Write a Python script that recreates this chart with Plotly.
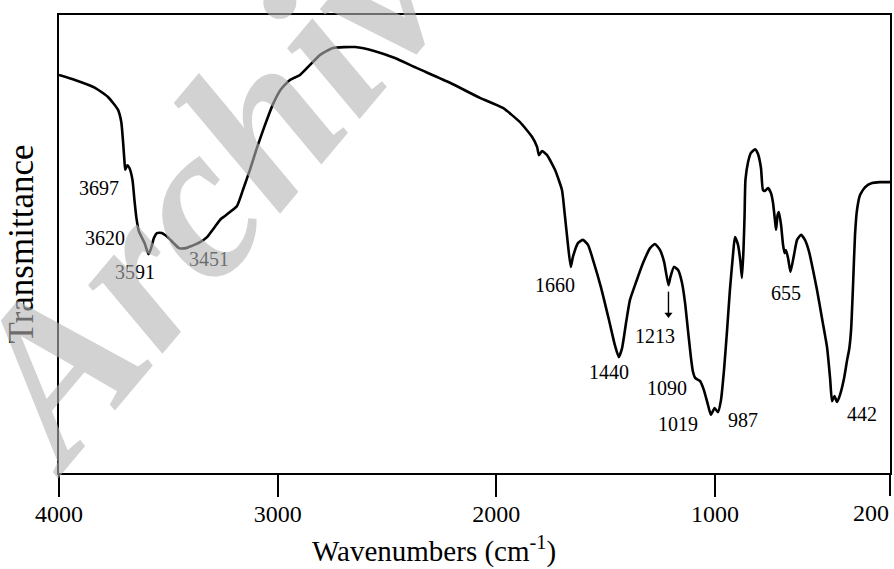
import plotly.graph_objects as go

# FTIR spectrum: wavenumber (cm-1) vs. transmittance (arbitrary units)
wavenumber = [4000, 3927, 3835, 3776, 3730, 3715, 3707, 3701, 3697, 3688, 3678, 3664, 3655,
              3646, 3635, 3620, 3607, 3591, 3580, 3566, 3552, 3530, 3503, 3476, 3451, 3419,
              3392, 3355, 3323, 3291, 3259, 3241, 3223, 3186, 3159, 3127, 3095, 3058, 3021,
              2985, 2944, 2898, 2852, 2806, 2747, 2646, 2555, 2464, 2363, 2212, 2075, 1970,
              1892, 1837, 1814, 1805, 1791, 1768, 1732, 1700, 1688, 1675, 1660, 1650, 1627,
              1604, 1581, 1554, 1522, 1485, 1458, 1440, 1425, 1407, 1389, 1361, 1329, 1297,
              1275, 1252, 1233, 1213, 1204, 1188, 1169, 1151, 1137, 1124, 1110, 1101, 1090,
              1069, 1051, 1032, 1019, 1002, 987, 973, 959, 945, 932, 918, 909, 895, 884, 877,
              870, 865, 861, 849, 836, 817, 804, 790, 781, 772, 758, 744, 735, 726, 721, 714,
              708, 698, 689, 682, 676, 666, 655, 639, 625, 607, 589, 570, 552, 534, 511, 488,
              474, 465, 454, 442, 429, 410, 396, 387, 378, 369, 360, 351, 337, 314, 282, 246,
              200]
transmittance = [86.9, 85.8, 84.1, 82.1, 79.3, 76.6, 72.3, 68.3, 66.2, 67.2, 66.6, 64.0, 59.6,
                 55.7, 52.8, 51.3, 50.0, 47.8, 48.9, 51.3, 52.4, 52.4, 51.5, 50.2, 49.1, 49.1,
                 49.6, 50.4, 51.5, 53.5, 55.5, 56.1, 56.8, 58.3, 61.8, 66.2, 71.0, 76.0, 80.6,
                 83.8, 85.8, 86.9, 89.1, 91.3, 92.8, 93.0, 92.1, 90.6, 88.4, 85.2, 81.9, 79.7,
                 76.6, 73.4, 71.2, 69.4, 70.3, 69.4, 66.2, 61.8, 56.8, 50.9, 45.0, 47.2, 50.2,
                 50.9, 49.8, 45.9, 40.6, 33.4, 27.9, 25.3, 27.3, 32.8, 37.8, 41.7, 45.9, 49.1,
                 50.0, 48.7, 46.1, 41.0, 42.8, 45.0, 44.3, 41.5, 37.1, 31.2, 25.1, 22.1, 20.7,
                 20.1, 18.1, 14.8, 12.7, 14.2, 13.3, 15.9, 22.5, 31.2, 40.0, 47.6, 51.5, 49.8,
                 46.1, 42.6, 48.7, 56.3, 64.0, 67.9, 69.9, 70.7, 69.7, 66.6, 61.8, 61.6, 62.2,
                 61.1, 59.0, 55.2, 53.1, 56.3, 57.0, 54.1, 49.8, 48.0, 48.7, 46.9, 43.9, 47.6,
                 50.9, 52.0, 50.9, 48.3, 44.3, 40.0, 33.8, 27.5, 20.7, 15.7, 16.8, 15.5, 17.0,
                 20.7, 24.7, 26.9, 31.2, 41.0, 52.0, 57.4, 60.7, 62.4, 63.3, 63.5, 63.5]

# Peak labels: text and label centre (wavenumber, transmittance)
peak_labels = ["3697", "3620", "3591", "3451", "1660", "1440", "1213", "1090", "1019", "987", "655", "442"]
label_x = [3817, 3790, 3652, 3314, 1732, 1485, 1275, 1220, 1169, 872, 676, 328]
label_y = [62.2, 51.3, 43.9, 46.7, 41.0, 22.1, 29.9, 18.6, 10.7, 11.6, 39.3, 12.9]

# Arrow pointing at the weak 1213 band (tail, head)
arrow_x = [1213, 1213]
arrow_y = [39.6, 34.6]

tick_values = [4000, 3000, 2000, 1000]
tick_labels = ["4000", "3000", "2000", "1000"]
end_tick_value = [200]
end_tick_label = ["200"]
x_range = [4000, 200]

SERIF = "Liberation Serif, Times New Roman, serif"

fig = go.Figure()
fig.add_trace(go.Scatter(
    x=wavenumber, y=transmittance, mode="lines",
    line=dict(color="black", width=2.6, shape="spline", smoothing=0.5),
    showlegend=False,
))
fig.add_trace(go.Scatter(
    x=arrow_x, y=arrow_y, mode="lines", line=dict(color="black", width=1.4),
    hoverinfo="skip", showlegend=False,
))
fig.add_trace(go.Scatter(
    x=arrow_x[1:], y=arrow_y[1:], mode="markers",
    marker=dict(symbol="triangle-down", size=7, color="black"),
    hoverinfo="skip", showlegend=False,
))
# carrier for the second x axis that holds the right-hand end tick
fig.add_trace(go.Scatter(
    x=x_range, y=[None, None], xaxis="x2", mode="lines",
    hoverinfo="skip", showlegend=False,
))

annotations = []
for txt, lx, ly in zip(peak_labels, label_x, label_y):
    annotations.append(dict(x=lx, y=ly, xref="x", yref="y", text=txt, showarrow=False,
                            font=dict(family=SERIF, size=20, color="black")))

# x axis title
annotations.append(dict(x=0.451, y=-0.168, xref="paper", yref="paper",
                        xanchor="center", yanchor="middle", showarrow=False,
                        text="Wavenumbers (cm<sup>-1</sup>)",
                        font=dict(family=SERIF, size=29, color="black")))

# repository watermark
annotations.append(dict(x=0.209, y=0.694, xref="paper", yref="paper",
                        xanchor="center", yanchor="middle",
                        text="<b><i>Archive</i></b>", showarrow=False, textangle=-50,
                        font=dict(family=SERIF, size=220, color="rgba(180,180,180,0.6)")))

common_ticks = dict(ticks="outside", ticklen=22, tickwidth=2.2, tickcolor="black",
                    showgrid=False, zeroline=False, automargin=False,
                    tickfont=dict(family=SERIF, size=24, color="black"))

fig.update_layout(
    width=894, height=569,
    margin=dict(l=59, r=4, t=15, b=96),
    paper_bgcolor="white", plot_bgcolor="white",
    annotations=annotations,
    xaxis=dict(
        range=x_range, tickmode="array", tickvals=tick_values, ticktext=tick_labels,
        showline=True, linewidth=2.2, linecolor="black", mirror=True,
        ticklabelstandoff=-4,
        **common_ticks,
    ),
    xaxis2=dict(
        range=x_range, overlaying="x", side="bottom", anchor="y",
        tickmode="array", tickvals=end_tick_value, ticktext=end_tick_label,
        ticklabelposition="outside left", showline=False,
        ticklabelstandoff=18,
        **common_ticks,
    ),
    yaxis=dict(
        range=[0, 100], showticklabels=False, ticks="",
        showline=True, linewidth=2.2, linecolor="black", mirror=True,
        showgrid=False, zeroline=False, automargin=False,
        title=dict(text="Transmittance", standoff=13,
                   font=dict(family=SERIF, size=35, color="black")),
    ),
)

fig.write_html("out.html")
